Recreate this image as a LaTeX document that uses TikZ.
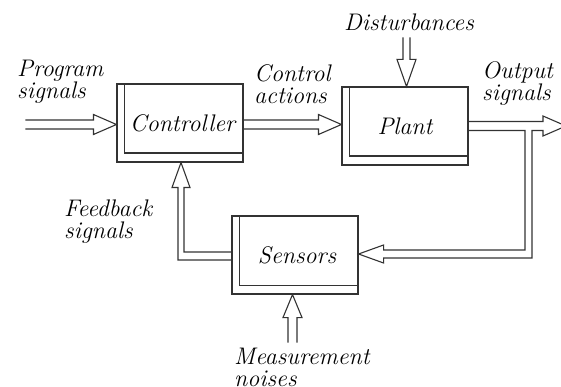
\documentclass[tikz,border=0pt]{standalone}
\usetikzlibrary{calc}
\newcommand\innerframe[1]{%
  \draw[conn] ($(#1.north west)+(8,0)$) -- ($(#1.south west)+(8,-9.5)$) -- ($(#1.south east)+(0,-9.5)$);}
\begin{document}
\begin{tikzpicture}[x=1pt,y=-1pt,
  conn/.style={draw=black!80, line width=1.1pt, line join=miter},
  blk/.style={draw=black!80, line width=1.1pt, minimum width=126pt, minimum height=78pt, inner sep=0pt, font=\itshape\fontsize{24}{22}\selectfont},
  lbl/.style={anchor=north west, inner sep=0pt, align=left, font=\itshape\fontsize{24}{22}\selectfont}]
\useasboundingbox (0,0) rectangle (561,387);
% blocks
\node[blk] (ctrl)  at (180,123) {\hspace{5pt}Controller};
\node[blk] (plant) at (405,126) {Plant};
\node[blk] (sens)  at (295,255) {\hspace{4pt}Sensors};
\innerframe{ctrl}
\innerframe{plant}
\innerframe{sens}
% labels
\node[lbl] (lprog) at (17,60) {Program\\signals};
\node[lbl] (lctrl) at (254,64) {Control\\actions};
\node[lbl] (ldist) at (344,14) {Disturbances};
\node[lbl] (lout)  at (482,61) {Output\\signals};
\node[lbl] (lfb)   at (64,200) {Feedback\\signals};
\node[lbl] (lmeas) at (234,348) {Measurement\\noises};
% tips
\coordinate (tprog) at ($(ctrl.west)+(0,1.5)$);
\coordinate (tctl)  at ($(plant.west)+(0,-1.5)$);
\coordinate (tout)  at (566,126);
\coordinate (tfb)   at ($(sens.east)+(0,-1)$);
\coordinate (tsc)   at ($(ctrl.south)+(1,0)$);
\coordinate (tdist) at ($(plant.north)+(1.5,0)$);
\coordinate (tmeas) at ($(sens.south)+(-2.5,0)$);
% program signals
\draw[conn] ($(tprog)+(-91,-4.5)$) -- ($(tprog)+(-23,-4.5)$) -- ($(tprog)+(-23,-10)$) -- (tprog)
  -- ($(tprog)+(-23,10)$) -- ($(tprog)+(-23,4.5)$) -- ($(tprog)+(-91,4.5)$);
% control actions
\draw[conn] ($(ctrl.east |- tctl)+(0,-4.5)$) -- ($(tctl)+(-23,-4.5)$) -- ($(tctl)+(-23,-10)$) -- (tctl)
  -- ($(tctl)+(-23,10)$) -- ($(tctl)+(-23,4.5)$) -- ($(ctrl.east |- tctl)+(0,4.5)$);
% output with feedback branch
\draw[conn] ($(plant.east)+(0,-4.5)$) -- ($(tout)+(-23,-4.5)$) -- ($(tout)+(-23,-10)$) -- (tout)
  -- ($(tout)+(-23,10)$) -- ($(tout)+(-23,4.5)$) -- (532,130.5) -- (532,258)
  -- ($(tfb)+(25,4)$) -- ($(tfb)+(25,9)$) -- (tfb) -- ($(tfb)+(25,-9)$) -- ($(tfb)+(25,-4)$)
  -- (525,250) -- (525,130.5) -- ($(plant.east)+(0,4.5)$);
% sensors to controller
\draw[conn] ($(sens.west)+(0,-3)$) -- (184,252) -- ($(tsc)+(3,25)$) -- ($(tsc)+(9,25)$) -- (tsc)
  -- ($(tsc)+(-9,25)$) -- ($(tsc)+(-3,25)$) -- (178,260) -- ($(sens.west)+(0,5)$);
% disturbances
\draw[conn] ($(tdist)+(-3.5,-49)$) -- ($(tdist)+(-3.5,-27)$) -- ($(tdist)+(-9.5,-27)$) -- (tdist)
  -- ($(tdist)+(9.5,-27)$) -- ($(tdist)+(3.5,-27)$) -- ($(tdist)+(3.5,-49)$);
% measurement noises
\draw[conn] ($(tmeas)+(-4.5,48)$) -- ($(tmeas)+(-4.5,23)$) -- ($(tmeas)+(-9.5,23)$) -- (tmeas)
  -- ($(tmeas)+(9.5,23)$) -- ($(tmeas)+(4.5,23)$) -- ($(tmeas)+(4.5,48)$);
\end{tikzpicture}
\end{document}
